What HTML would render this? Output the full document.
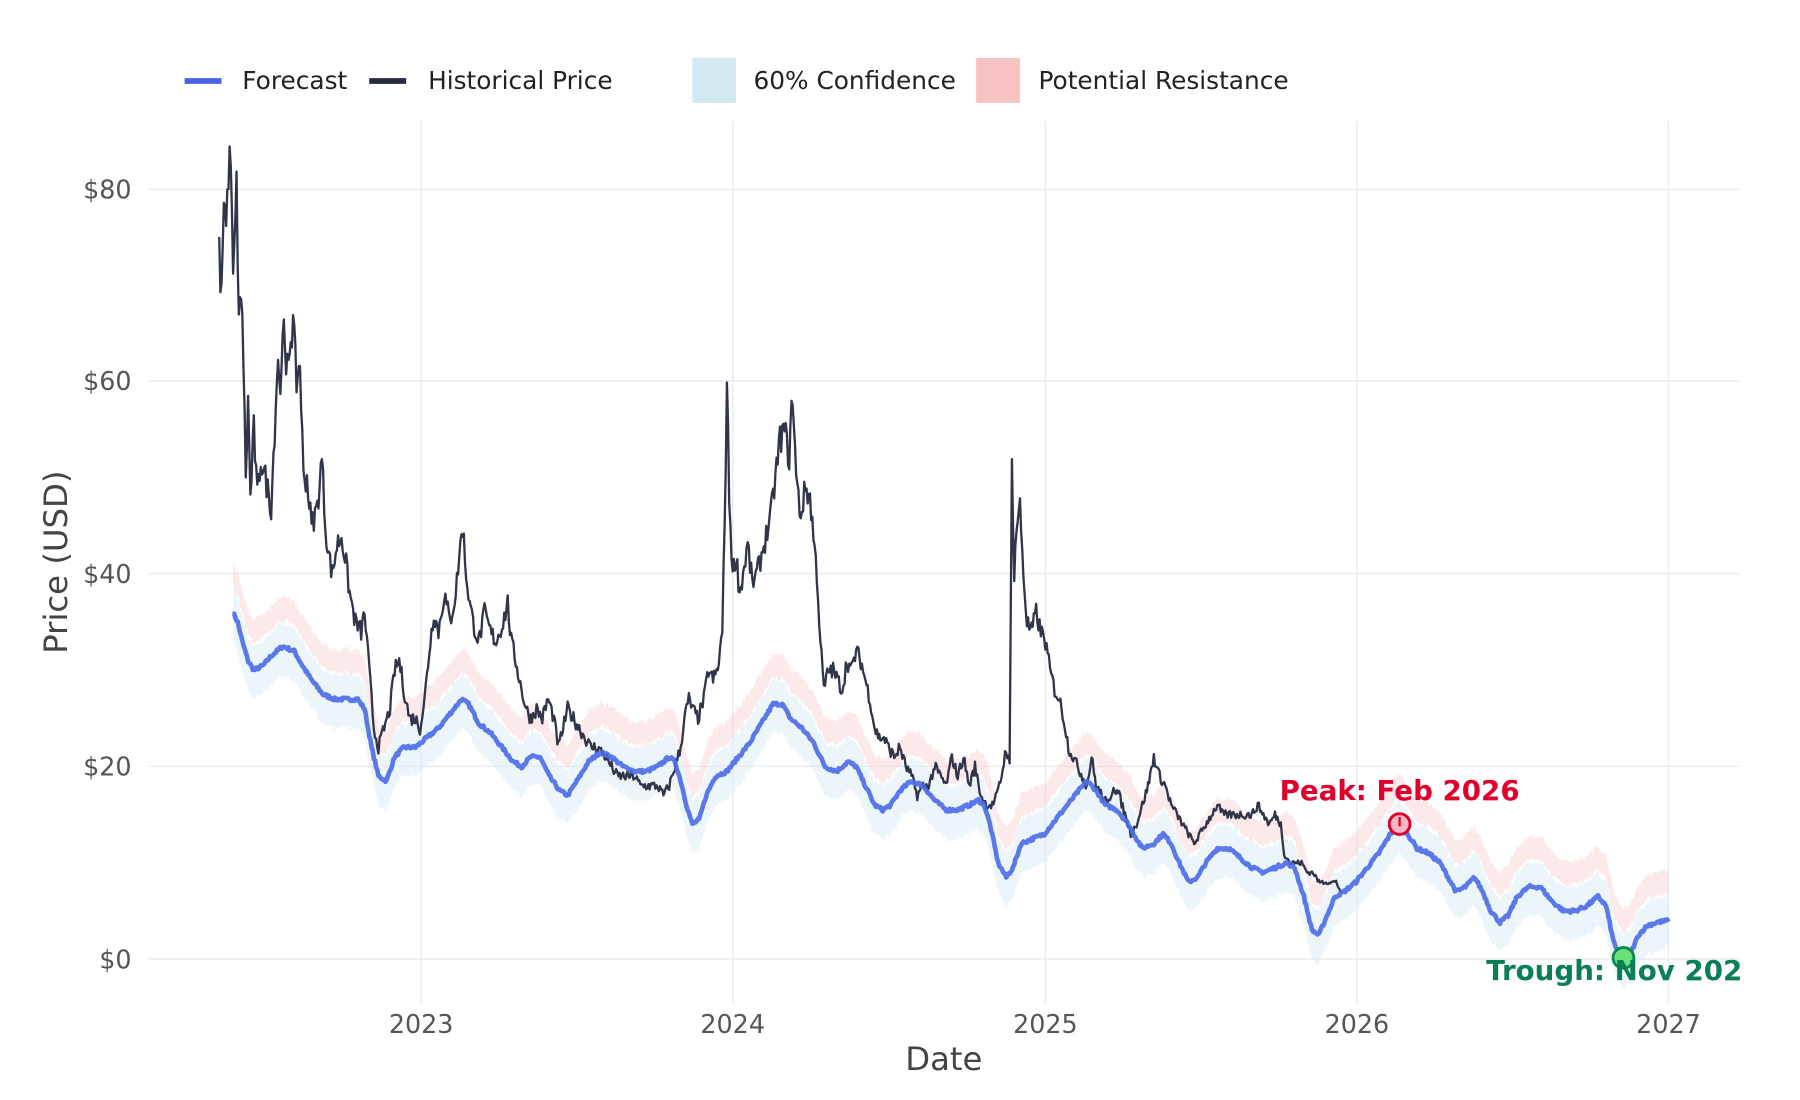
<!DOCTYPE html>
<html><head><meta charset="utf-8"><style>
html,body{margin:0;padding:0;background:#fff;}
svg{display:block;font-family:"DejaVu Sans","Liberation Sans",sans-serif;}
</style></head><body>
<svg id="s" width="1800" height="1100" viewBox="0 0 1560 953" xmlns="http://www.w3.org/2000/svg">
<defs><clipPath id="c"><rect x="128" y="95" width="1381" height="800"/></clipPath></defs>
<rect width="1560" height="953" fill="#fff"/>
<g stroke="#e9ecf1" stroke-width="1.3">
<line x1="128" x2="1508" y1="164" y2="164"/><line x1="128" x2="1508" y1="330" y2="330"/>
<line x1="128" x2="1508" y1="497" y2="497"/><line x1="128" x2="1508" y1="664" y2="664"/>
<line x1="128" x2="1508" y1="831" y2="831"/>
<line x1="365" x2="365" y1="105" y2="870"/><line x1="635" x2="635" y1="105" y2="870"/>
<line x1="906" x2="906" y1="105" y2="870"/><line x1="1176" x2="1176" y1="105" y2="870"/>
<line x1="1446" x2="1446" y1="105" y2="870"/>
</g>
<g font-size="22" fill="#555" text-anchor="end">
<text x="114" y="172">$80</text><text x="114" y="338">$60</text><text x="114" y="505">$40</text>
<text x="114" y="672">$20</text><text x="114" y="839">$0</text></g>
<g font-size="22" fill="#555" text-anchor="middle">
<text x="365" y="895">2023</text><text x="635" y="895">2024</text><text x="906" y="895">2025</text>
<text x="1176" y="895">2026</text><text x="1446" y="895">2027</text></g>
<text x="818" y="927" font-size="28" fill="#444" text-anchor="middle">Date</text>
<text transform="translate(58,487) rotate(-90)" font-size="28" fill="#444" text-anchor="middle">Price (USD)</text>
<g font-size="21.5" fill="#222">
<line x1="160" x2="192" y1="70" y2="70" stroke="#4a62e8" stroke-width="5"/><text x="210" y="77">Forecast</text>
<line x1="320" x2="352" y1="70" y2="70" stroke="#262a40" stroke-width="5"/><text x="371" y="77">Historical Price</text>
<rect x="600" y="50" width="38" height="39" fill="#d3e9f1"/><text x="653" y="77">60% Confidence</text>
<rect x="846" y="50" width="38" height="39" fill="#f7c3c1"/><text x="900" y="77">Potential Resistance</text>
</g>
<g id="plot" clip-path="url(#c)"></g>
</svg>
<script>
var F=[202,36,206,35,210,33,215,31,220,30,228,30.5,235,31.5,245,32.5,255,32,262,30.5,270,29,280,27.5,290,27,300,27,310,27,316,26,322,22,328,19,335,18.5,342,21,350,22,360,22,370,23,380,24,390,25.5,400,27,406,26.5,415,24.5,425,23.5,435,22,445,20.5,452,20,460,21,468,21,476,19,485,17.5,492,17,500,18.5,510,20.5,520,21.5,530,21,540,20,550,19.5,560,19.5,570,20,580,21,585,20.5,590,18.5,595,16,600,14,606,14.5,612,17,620,19,630,19.5,640,21,650,22.5,660,24.5,670,26.5,678,26.5,685,25,695,24,705,22.5,715,20,725,19.5,735,20.5,742,20,750,18,758,16,765,15.5,772,16,780,17.5,790,18.5,800,18,810,16.5,820,15.5,830,15.5,840,16,848,16.5,853,16,858,14,865,10,872,8.5,878,9.5,885,12,895,12.5,905,13,915,14.5,925,16,935,17.5,942,18.5,950,17.5,958,16,968,15.5,978,14,985,12.5,990,11.5,1000,12,1008,13,1015,12,1022,10,1030,8,1038,8.5,1045,10,1055,11.5,1065,11.5,1075,10.5,1085,9.5,1095,9,1105,9.5,1115,10,1122,9.5,1130,6.5,1137,3,1143,2.5,1150,4.5,1157,6.5,1165,7,1175,8,1185,9.5,1195,11,1205,13,1212,14,1220,13,1228,11.5,1238,11,1248,10,1255,8.5,1262,7,1270,7.5,1278,8.5,1285,7,1292,5,1300,3.8,1307,4.5,1315,6.5,1325,7.5,1335,7.5,1345,6,1355,5,1365,5,1375,5.5,1385,6.5,1392,5.5,1398,2,1403,0.5,1407,0,1413,0.5,1420,2.5,1428,3.5,1436,3.8,1446,4];
var H=[190,73,192,69,194,80,196,76,198,82,200,83,202,70,205,80,207,67,210,68,213,50,215,58,217,48,220,55,223,48,226,52,230,50,235,47,238,55,241,63,243,58,245,67,248,60,251,64,254,66,257,60,260,62,263,50,266,50,270,45,275,47,279,52,282,45,285,42,288,40,292,43,296,44,300,41,303,38,308,35,313,34,316,36,320,30,324,24,328,22,333,24,338,26,342,30,346,31,350,28,355,25,360,25,364,24,368,27,372,32,376,36,380,34,385,38,390,35,395,38,398,42,401,45,404,40,407,37,410,35,415,33,420,36,425,34,430,33,436,35,440,37,443,33,447,31,452,28,456,26,460,25,465,26,470,25,475,27,480,25,484,22,488,24,492,26,497,25,502,24,507,23,512,22,518,22,525,21,530,20,535,19,540,19,545,19,550,19,555,18,560,18,565,18,570,18,575,17,580,18,585,20,590,22,593,25,597,27,600,26,605,25,610,27,614,30,618,29,622,30,626,34,628,45,630,60,632,48,635,40,638,42,641,38,644,40,648,43,652,39,656,40,660,42,664,44,668,46,672,50,676,54,680,55,684,52,687,59,690,50,694,46,698,49,702,48,705,44,708,40,711,33,714,28,718,30,722,30,726,29,730,28,734,31,738,30,742,32,746,31,750,29,754,27,758,24,762,23,766,23,770,22,775,21,780,22,785,20,790,19,795,17,800,18,805,18,810,20,815,19,820,18,825,21,830,19,835,21,840,18,845,20,850,17,855,16,860,16,864,17,868,19,872,22,875,20,877,52,879,40,881,45,884,47,887,40,890,35,894,34,898,36,902,34,906,33,910,30,914,28,918,27,922,25,926,22,930,21,934,20,938,19,942,18,946,21,950,18,955,17,960,16,965,18,970,17,975,15,980,13,985,14,990,16,995,18,1000,21,1005,19,1010,18,1015,16,1020,15,1025,14,1030,13,1035,12,1040,13,1045,14,1050,15,1055,16,1060,15,1065,15,1070,15,1075,15,1080,15,1085,15,1090,16,1095,15,1100,14,1105,15,1110,14,1113,11,1118,10,1123,10,1128,10,1133,9,1138,9,1143,8,1148,8,1153,8,1158,8,1162,7];
function Y(v){return 831-v*8.34;}
function interp(A,step){var o=[];for(var i=0;i<A.length-2;i+=2){var x0=A[i],y0=A[i+1],x1=A[i+2],y1=A[i+3];for(var x=x0;x<x1;x+=step){o.push([x,y0+(y1-y0)*(x-x0)/(x1-x0)]);}}o.push([A[A.length-2],A[A.length-1]]);return o;}
var seed=7;function r(){seed=(seed*16807)%2147483647;return seed/2147483647-0.5;}
var f=interp(F,1).map(function(p){return [p[0],p[1]+r()*0.35];});
function band(lo,hi){var a=f.map(function(p){return p[0]+','+Y(p[1]+hi+r()*0.5).toFixed(1)}),b=f.slice().reverse().map(function(p){return p[0]+','+Y(p[1]+lo+r()*0.5).toFixed(1)});return 'M'+a.join('L')+'L'+b.join('L')+'Z';}
var h=interp(H,1).map(function(p,i){return [p[0],p[1]*(1+r()*0.06)];});
var g=document.getElementById('plot');
g.innerHTML='<path d="'+band(-3,2.5)+'" fill="#d9edf5" opacity="0.5"/>'+
'<path d="'+band(2.8,5.2)+'" fill="#f9cfcf" opacity="0.45"/>'+
'<path d="M'+h.map(function(p){return p[0]+','+Y(p[1]).toFixed(1)}).join('L')+'" fill="none" stroke="#262a40" stroke-width="2" opacity="0.95" stroke-linejoin="round"/>'+
'<path d="M'+f.map(function(p){return p[0]+','+Y(p[1]).toFixed(1)}).join('L')+'" fill="none" stroke="#4a6ae8" stroke-width="4" opacity="0.9" stroke-linejoin="round"/>'+
'<circle cx="1213" cy="714" r="9" fill="#f7b6c0" stroke="#e0002c" stroke-width="2.5"/><line x1="1213" y1="708" x2="1213" y2="716" stroke="#e0002c" stroke-width="2"/>'+
'<text x="1213" y="693" font-size="24" font-weight="bold" fill="#e0002c" text-anchor="middle">Peak: Feb 2026</text>'+
'<circle cx="1407" cy="830" r="9" fill="#6ee07a" stroke="#0b8a50" stroke-width="2.5"/>'+
'<text x="1288" y="849" font-size="24" font-weight="bold" fill="#0a7f55">Trough: Nov 2026</text>';
</script>
</body></html>
